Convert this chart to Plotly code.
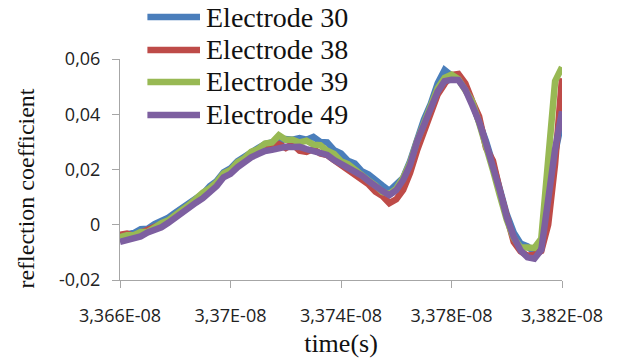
import plotly.graph_objects as go

t0 = 3.366e-8
dt = 2.5e-12
n = 65
time_s = [t0 + i * dt for i in range(n)]

series_names = ["Electrode 30", "Electrode 38", "Electrode 39", "Electrode 49"]
colors = ["#4A7EBB", "#BE4B48", "#98B954", "#7D5FA0"]

e30 = [-0.0040, -0.0036, -0.0030, -0.0016, -0.0014, 0.0002, 0.0012, 0.0026, 0.0044, 0.0062,
       0.0076, 0.0100, 0.0112, 0.0140, 0.0158, 0.0190, 0.0204, 0.0230, 0.0248, 0.0264,
       0.0278, 0.0292, 0.0296, 0.0304, 0.0310, 0.0308, 0.0314, 0.0308, 0.0318, 0.0300,
       0.0298, 0.0270, 0.0258, 0.0232, 0.0222, 0.0194, 0.0182, 0.0158, 0.0142, 0.0123,
       0.0144, 0.0170, 0.0230, 0.0306, 0.0380, 0.0438, 0.0512, 0.0560, 0.0540, 0.0532,
       0.0498, 0.0442, 0.0378, 0.0302, 0.0220, 0.0132, 0.0038, -0.0028, -0.0068, -0.0078,
       -0.0100, -0.0085, 0.0080, 0.0260, 0.0380]
e38 = [-0.0036, -0.0032, -0.0040, -0.0030, -0.0022, -0.0012, 0.0000, 0.0014, 0.0032, 0.0052,
       0.0068, 0.0092, 0.0106, 0.0130, 0.0148, 0.0180, 0.0196, 0.0218, 0.0236, 0.0254,
       0.0266, 0.0280, 0.0282, 0.0292, 0.0278, 0.0292, 0.0268, 0.0264, 0.0274, 0.0258,
       0.0252, 0.0234, 0.0216, 0.0198, 0.0186, 0.0162, 0.0146, 0.0120, 0.0104, 0.0078,
       0.0092, 0.0126, 0.0188, 0.0268, 0.0342, 0.0402, 0.0472, 0.0510, 0.0542, 0.0546,
       0.0512, 0.0448, 0.0392, 0.0278, 0.0232, 0.0124, 0.0022, -0.0062, -0.0096, -0.0112,
       -0.0108, -0.0095, 0.0000, 0.0220, 0.0530]
e39 = [-0.0045, -0.0038, -0.0038, -0.0026, -0.0026, -0.0008, 0.0006, 0.0016, 0.0038, 0.0054,
       0.0072, 0.0096, 0.0116, 0.0132, 0.0154, 0.0186, 0.0198, 0.0226, 0.0240, 0.0264,
       0.0274, 0.0294, 0.0298, 0.0324, 0.0308, 0.0308, 0.0298, 0.0304, 0.0290, 0.0288,
       0.0268, 0.0256, 0.0230, 0.0220, 0.0198, 0.0182, 0.0160, 0.0142, 0.0118, 0.0112,
       0.0130, 0.0170, 0.0224, 0.0302, 0.0370, 0.0432, 0.0494, 0.0532, 0.0543, 0.0527,
       0.0488, 0.0447, 0.0368, 0.0292, 0.0198, 0.0106, 0.0018, -0.0048, -0.0082, -0.0082,
       -0.0084, -0.0050, 0.0220, 0.0520, 0.0570]
e49 = [-0.0062, -0.0056, -0.0049, -0.0042, -0.0028, -0.0020, -0.0009, 0.0007, 0.0027, 0.0040,
       0.0060, 0.0080, 0.0096, 0.0116, 0.0140, 0.0172, 0.0184, 0.0208, 0.0227, 0.0244,
       0.0256, 0.0267, 0.0271, 0.0278, 0.0282, 0.0281, 0.0282, 0.0274, 0.0267, 0.0258,
       0.0253, 0.0234, 0.0220, 0.0210, 0.0194, 0.0178, 0.0158, 0.0138, 0.0122, 0.0107,
       0.0125, 0.0162, 0.0216, 0.0300, 0.0362, 0.0422, 0.0482, 0.0520, 0.0525, 0.0524,
       0.0489, 0.0433, 0.0373, 0.0295, 0.0216, 0.0124, 0.0027, -0.0043, -0.0093, -0.0118,
       -0.0123, -0.0091, 0.0091, 0.0273, 0.0411]
series_values = [e30, e38, e39, e49]

x_tickvals = [3.366e-8, 3.370e-8, 3.374e-8, 3.378e-8, 3.382e-8]
x_ticktext = ["3,366E-08", "3,37E-08", "3,374E-08", "3,378E-08", "3,382E-08"]
y_tickvals = [-0.02, 0, 0.02, 0.04, 0.06]
y_ticktext = ["-0,02", "0", "0,02", "0,04", "0,06"]

fig = go.Figure()
for name, vals, c in zip(series_names, series_values, colors):
    fig.add_trace(go.Scatter(x=time_s, y=vals, mode="lines", name=name,
                             line=dict(color=c, width=6.5), showlegend=False))

# manual legend (long line samples like the original)
leg_y = [1.190, 1.041, 0.896, 0.747]
for name, c, yy in zip(series_names, colors, leg_y):
    fig.add_shape(type="line", xref="paper", yref="paper", x0=0.062, x1=0.181, y0=yy, y1=yy,
                  line=dict(color=c, width=6.5))
    fig.add_annotation(xref="paper", yref="paper", x=0.190, y=yy, text=name, showarrow=False,
                       xanchor="left", yanchor="middle",
                       font=dict(family="Liberation Serif", size=28, color="#111"))

# y-axis title placed like the original (slightly below the plot centre)
fig.add_annotation(xref="paper", yref="paper", x=-0.212, y=0.415, text="reflection coefficient",
                   textangle=-90, showarrow=False, xanchor="center", yanchor="middle",
                   font=dict(family="Liberation Serif", size=24, color="#111"))

tick_font = dict(family="Open Sans", size=18, color="#222")
fig.update_layout(
    width=619, height=361,
    margin=dict(l=120, r=57, t=59, b=81),
    paper_bgcolor="white", plot_bgcolor="white",
    xaxis=dict(range=[3.366e-8, 3.382e-8], tickvals=x_tickvals, ticktext=x_ticktext,
               showgrid=False, zeroline=False, showline=True, linecolor="#A6A6A6", linewidth=1,
               ticks="outside", ticklen=7, tickcolor="#A6A6A6", tickfont=tick_font,
               ticklabelstandoff=12, automargin=False,
               title=dict(text="time(s)", standoff=8,
                          font=dict(family="Liberation Serif", size=26, color="#111"))),
    yaxis=dict(range=[-0.02, 0.06], tickvals=y_tickvals, ticktext=y_ticktext,
               showgrid=False, zeroline=False, showline=True, linecolor="#A6A6A6", linewidth=1,
               ticks="outside", ticklen=7, tickcolor="#A6A6A6", tickfont=tick_font,
               ticklabelstandoff=8, automargin=False),
)

fig.write_html("out.html")
